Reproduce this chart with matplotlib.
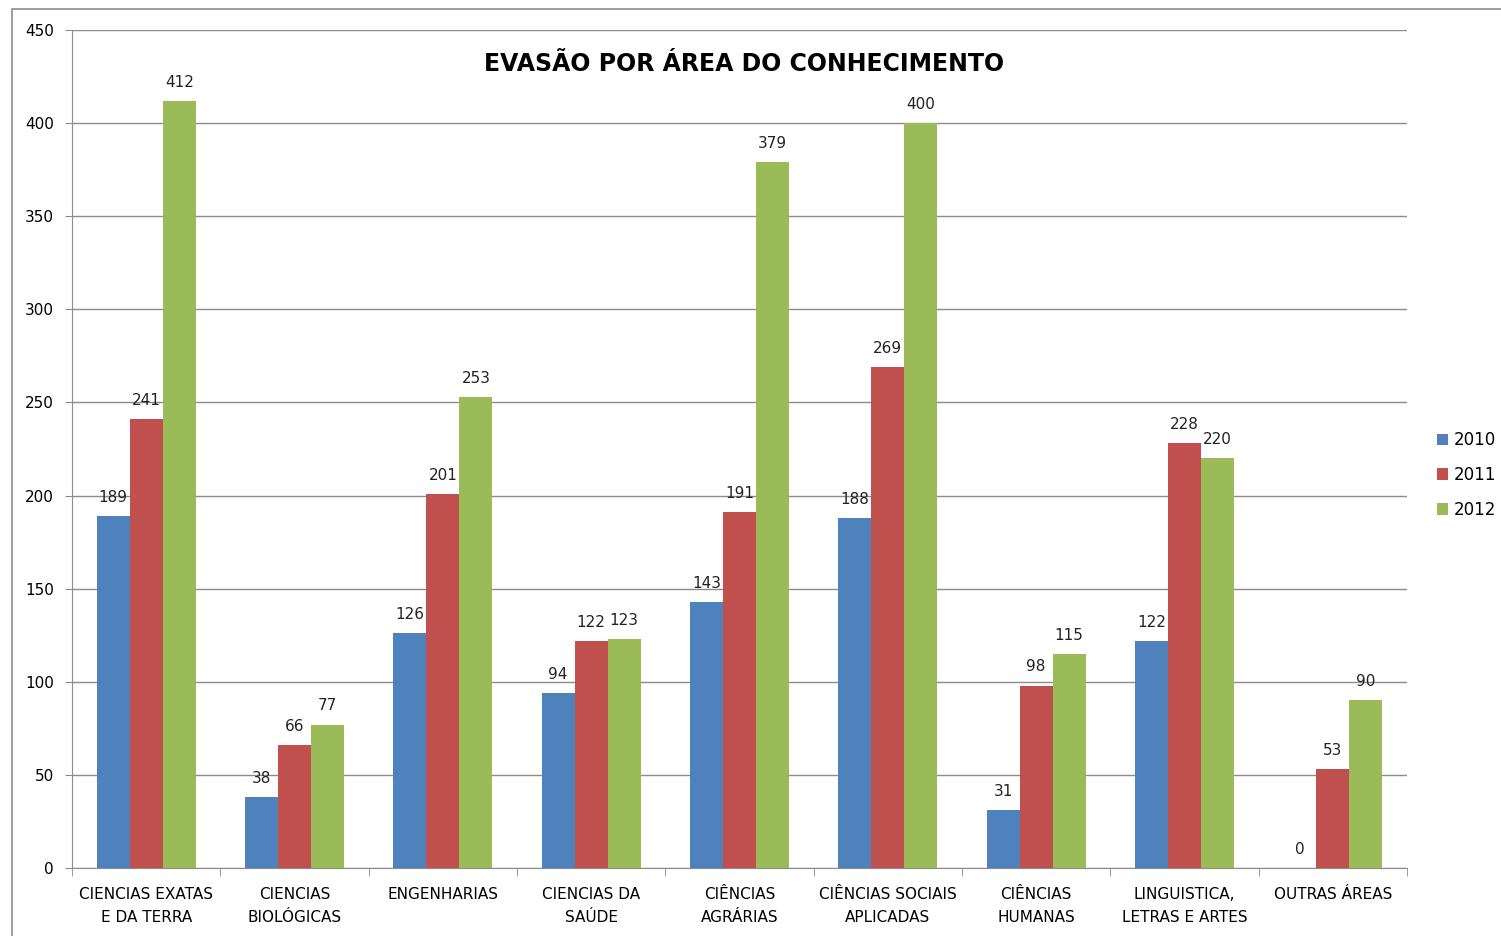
import numpy as np
import matplotlib
matplotlib.use("Agg")
import matplotlib.pyplot as plt
from matplotlib.patches import Rectangle

# -----------------------------
# Data
# -----------------------------
categories = [
    "CIENCIAS EXATAS\nE DA TERRA",
    "CIENCIAS\nBIOLÓGICAS",
    "ENGENHARIAS",
    "CIENCIAS DA\nSAÚDE",
    "CIÊNCIAS\nAGRÁRIAS",
    "CIÊNCIAS SOCIAIS\nAPLICADAS",
    "CIÊNCIAS\nHUMANAS",
    "LINGUISTICA,\nLETRAS E ARTES",
    "OUTRAS ÁREAS",
]
years = ["2010", "2011", "2012"]
v2010 = [189, 38, 126, 94, 143, 188, 31, 122, 0]
v2011 = [241, 66, 201, 122, 191, 269, 98, 228, 53]
v2012 = [412, 77, 253, 123, 379, 400, 115, 220, 90]
colors = ["#4F81BD", "#C0504D", "#9BBB59"]

# -----------------------------
# Figure
# -----------------------------
fig = plt.figure(figsize=(15.01, 9.36), dpi=100)
ax = fig.add_axes([72 / 1501, 1 - 868 / 936, (1407 - 72) / 1501, (868 - 30) / 936])

# outer chart border
fig.patches.append(Rectangle((12 / 1501, -0.01), 1.2, 1 - 9 / 936 + 0.01,
                             transform=fig.transFigure, fill=False,
                             edgecolor="#8c8c8c", lw=1.2))

x = np.arange(len(categories))
w = 0.223
for i, (vals, c, yr) in enumerate(zip([v2010, v2011, v2012], colors, years)):
    bars = ax.bar(x + (i - 1) * w, vals, w, color=c, label=yr, zorder=3)
    for b, v in zip(bars, vals):
        ax.text(b.get_x() + b.get_width() / 2, v + 6, str(v),
                ha="center", va="bottom", fontsize=11, color="#222222")

ax.set_xlim(-0.5, len(categories) - 0.5)
ax.set_ylim(0, 450)
ax.set_yticks(np.arange(0, 451, 50))
ax.yaxis.grid(True, color="#8c8c8c", lw=1, zorder=0)
ax.tick_params(axis="y", labelsize=11, length=5, color="#8c8c8c", pad=8)

ax.set_xticks(x)
ax.set_xticklabels(categories, fontsize=11, linespacing=1.6)
ax.tick_params(axis="x", length=0, pad=14)
ax.set_xticks(np.arange(-0.5, len(categories), 1), minor=True)
ax.tick_params(axis="x", which="minor", length=6, color="#8c8c8c")

for s in ["top", "right"]:
    ax.spines[s].set_visible(False)
for s in ["left", "bottom"]:
    ax.spines[s].set_color("#8c8c8c")

fig.text((72 + 1407) / 2 / 1501 + 0.003, 1 - 64 / 936, "EVASÃO POR ÁREA DO CONHECIMENTO",
         ha="center", va="center", fontsize=17, fontweight="bold")

fig.legend(loc="center left", bbox_to_anchor=(1430 / 1501, 1 - 475 / 936),
           frameon=False, fontsize=12, handlelength=0.7, handleheight=0.7,
           handletextpad=0.3, labelspacing=1.0, borderaxespad=0)

fig.savefig("out.png", dpi=100)
